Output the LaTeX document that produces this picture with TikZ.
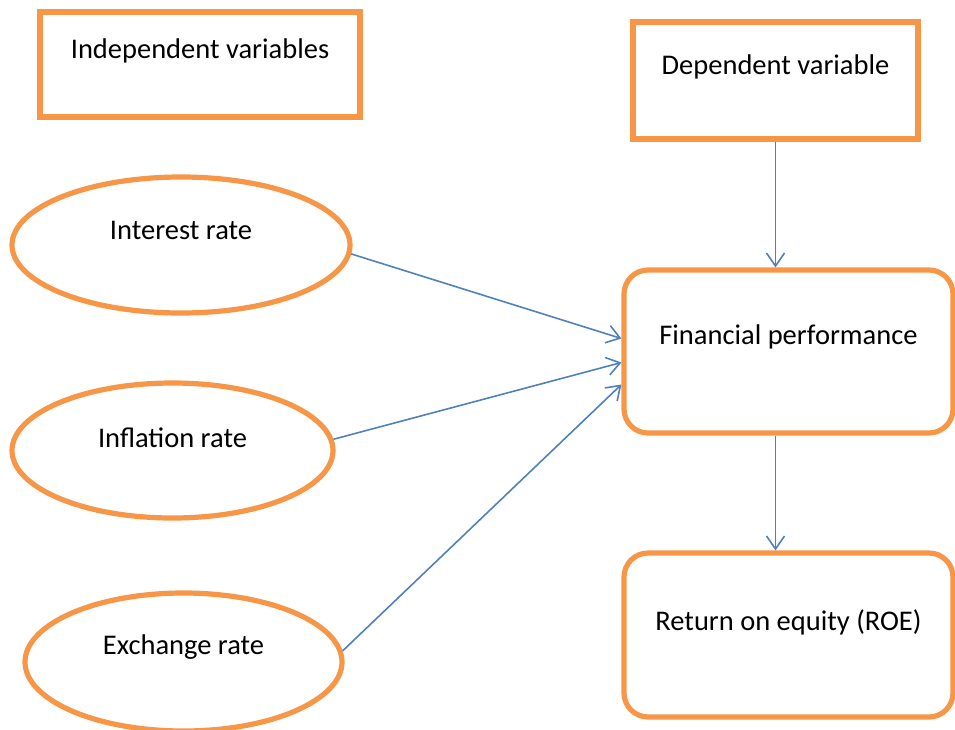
\documentclass[tikz,border=0pt]{standalone}
\usepackage{fontspec}
\setmainfont{Carlito}
\usetikzlibrary{shapes.geometric,arrows.meta,calc}
\definecolor{boxorange}{HTML}{F79646}
\definecolor{linkblue}{HTML}{4F81BD}
\tikzset{
  varbox/.style={draw=boxorange, line width=5.2pt, rectangle, inner sep=0pt},
  roundbox/.style={varbox, rounded corners=24pt},
  varell/.style={draw=boxorange, line width=5.2pt, ellipse, inner sep=0pt},
  link/.style={draw=linkblue, line width=1.6pt, -{Straight Barb[length=13pt,width=18pt]}},
}
\begin{document}
\begin{tikzpicture}[x=1pt, y=-1pt, font=\fontsize{28.5}{34}\selectfont]
    \useasboundingbox (0,0) rectangle (955,729);

    % Headings
    \node[varbox, minimum width=320pt, minimum height=105pt,
          label={[yshift=14pt]center:Independent variables}] (indep) at (200,64.5) {};
    \node[varbox, minimum width=285pt, minimum height=117pt,
          label={[yshift=14pt]center:Dependent variable}] (dep) at (775.5,80.5) {};

    % Independent variables
    \node[varell, minimum width=338pt, minimum height=136pt,
          label={[yshift=15pt]center:Interest rate}] (interest) at (181,245) {};
    \node[varell, minimum width=321pt, minimum height=135pt,
          label={[yshift=13pt]center:Inflation rate}] (inflation) at (172.5,450.5) {};
    \node[varell, minimum width=317pt, minimum height=138pt,
          label={[yshift=15pt]center:Exchange rate}] (exchange) at (183.5,662) {};

    % Dependent variable and its measure
    \node[roundbox, minimum width=329pt, minimum height=163pt,
          label={[yshift=15pt]center:Financial performance}] (fin) at (788.5,351.5) {};
    \node[roundbox, minimum width=329pt, minimum height=164pt,
          label={[yshift=13pt]center:Return on equity (ROE)}] (roe) at (788.5,635) {};

    % Links
    \draw[link] (interest.-3) -- ($(fin.west)+(0,-13)$);
    \draw[link] (inflation.4) -- ($(fin.west)+(0,11)$);
    \draw[link] (exchange.4) -- ($(fin.west)+(0,33)$);
    \draw[link] (dep.south) -- (dep.south |- fin.north);
    \draw[link] (dep.south |- fin.south) -- (dep.south |- roe.north);
\end{tikzpicture}
\end{document}
